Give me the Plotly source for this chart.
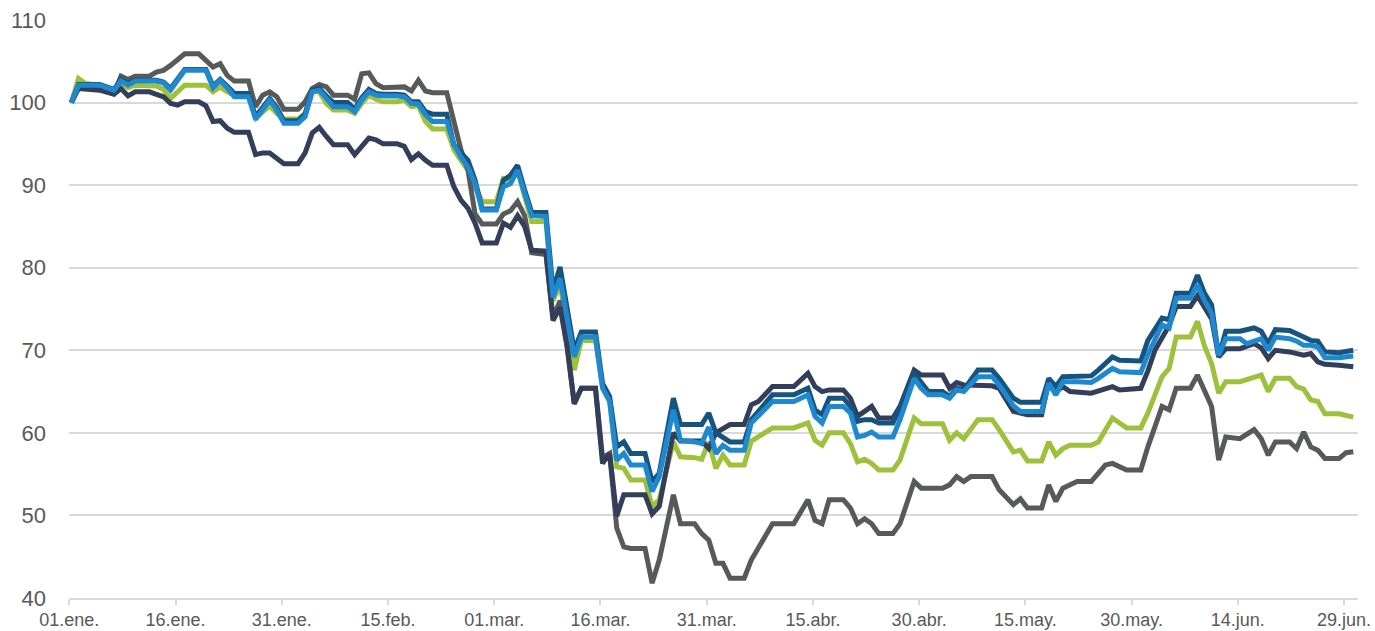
import pandas as pd
import plotly.graph_objects as go

base = pd.Timestamp("2020-01-01")

# x-axis ticks (days after 01.ene.2020) and labels
tick_days = [0, 15, 30, 45, 60, 75, 90, 105, 120, 135, 150, 165, 180]
tick_labels = ["01.ene.", "16.ene.", "31.ene.", "15.feb.", "01.mar.", "16.mar.",
               "31.mar.", "15.abr.", "30.abr.", "15.may.", "30.may.", "14.jun.", "29.jun."]
y_ticks = [40, 50, 60, 70, 80, 90, 100, 110]

# ---- series: green ----
green_days = [0, 1, 2, 4, 6, 7, 8, 9, 12, 13, 14, 16, 19, 20, 21, 22, 23, 25, 26, 27, 28, 29, 30, 32,
              33, 34, 35, 36, 37, 39, 40, 41, 42, 43, 44, 46, 47, 48, 49, 50, 51, 53, 54, 55, 56, 57,
              58, 60, 61, 62, 63, 64, 65, 67, 68, 69, 71, 72, 74, 75, 76, 77, 78, 79, 81, 82, 83, 85,
              86, 88, 89, 90, 91, 92, 93, 95, 96, 99, 102, 104, 105, 106, 107, 109, 110, 111, 112, 113,
              114, 116, 117, 119, 120, 123, 124, 125, 126, 128, 130, 131, 133, 134, 135, 137, 138, 139,
              140, 141, 144, 145, 147, 148, 149, 151, 152, 154, 155, 156, 158, 159, 160, 161, 162, 163,
              165, 168, 169, 170, 172, 173, 174, 175, 176, 177, 179, 181]
green_vals = [100, 102.9, 102.3, 102.1, 101.3, 102.3, 101.8, 102.1, 102.0, 101.6, 100.5, 102.1, 102.1,
              101.3, 101.9, 101.3, 100.9, 100.9, 98.1, 98.9, 99.6, 98.7, 98.0, 98.0, 98.7, 101.3, 101.3,
              99.9, 99.1, 99.1, 98.7, 99.9, 100.9, 100.4, 100.1, 100.1, 100.3, 99.5, 99.6, 97.7, 96.8,
              96.8, 94.3, 93.0, 91.8, 89.8, 88.0, 88.0, 90.8, 90.6, 91.8, 88.6, 85.6, 85.6, 76.0, 78.0,
              67.6, 71.2, 71.2, 65.6, 64.0, 55.9, 55.7, 54.3, 54.3, 51.1, 51.9, 58.9, 57.1, 57.0, 56.8,
              58.9, 55.7, 57.3, 56.1, 56.1, 59.0, 60.6, 60.6, 61.2, 59.1, 58.5, 60.0, 60.0, 58.7, 56.5,
              56.8, 56.3, 55.5, 55.5, 56.7, 61.8, 61.1, 61.1, 59.1, 60.0, 59.3, 61.6, 61.6, 60.4, 57.7,
              57.9, 56.6, 56.6, 58.9, 57.3, 58.1, 58.5, 58.5, 58.9, 61.8, 61.2, 60.6, 60.6, 62.4, 66.8,
              67.8, 71.6, 71.6, 73.5, 70.5, 68.4, 64.8, 66.2, 66.2, 67.0, 65.0, 66.6, 66.6, 65.6, 65.3,
              64.0, 63.8, 62.3, 62.3, 61.9]

# ---- series: gray ----
gray_days = [0, 1, 4, 6, 7, 8, 9, 11, 12, 13, 14, 16, 18, 20, 21, 22, 23, 25, 26, 27, 28, 29, 30, 32,
             33, 34, 35, 36, 37, 39, 40, 41, 42, 43, 44, 46, 47, 48, 49, 50, 51, 53, 54, 55, 56, 57, 58,
             60, 61, 62, 63, 64, 65, 67, 68, 69, 70, 71, 72, 74, 75, 76, 77, 78, 79, 81, 82, 83, 84, 85,
             86, 88, 89, 90, 91, 92, 93, 95, 96, 99, 102, 104, 105, 106, 107, 109, 110, 111, 112, 113,
             114, 116, 117, 119, 120, 123, 124, 125, 126, 127, 130, 131, 133, 134, 135, 137, 138, 139,
             140, 142, 144, 145, 146, 147, 149, 151, 152, 154, 155, 156, 158, 159, 161, 162, 163, 165,
             167, 168, 169, 170, 172, 173, 174, 175, 176, 177, 179, 180, 181]
gray_vals = [100, 102.0, 102.1, 101.1, 103.2, 102.8, 103.2, 103.2, 103.7, 103.9, 104.5, 105.9, 105.9,
             104.3, 104.7, 103.3, 102.6, 102.6, 99.5, 100.9, 101.3, 100.7, 99.2, 99.2, 100.1, 101.7,
             102.2, 101.9, 100.9, 100.9, 100.4, 103.5, 103.6, 102.3, 101.8, 101.8, 101.9, 101.4, 102.7,
             101.4, 101.2, 101.2, 97.5, 94.3, 91.8, 86.5, 85.3, 85.3, 86.5, 86.9, 88.0, 86.3, 81.8, 81.6,
             74.0, 76.0, 70.5, 63.6, 65.4, 65.4, 57.0, 57.5, 48.5, 46.2, 46.0, 46.0, 41.8, 44.6, 48.5,
             52.5, 49.0, 49.0, 47.8, 47.0, 44.2, 44.2, 42.4, 42.4, 44.6, 49.0, 49.0, 51.9, 49.4, 49.0,
             51.9, 51.9, 50.9, 49.0, 49.6, 49.0, 47.8, 47.8, 49.0, 54.1, 53.3, 53.3, 53.7, 54.7, 54.1,
             54.7, 54.7, 53.1, 51.3, 52.0, 50.9, 50.9, 53.7, 51.7, 53.3, 54.1, 54.1, 55.0, 56.1, 56.3,
             55.5, 55.5, 58.3, 63.2, 62.8, 65.4, 65.4, 67.0, 63.2, 56.7, 59.5, 59.3, 60.4, 59.3, 57.3,
             58.9, 58.9, 58.1, 60.1, 58.3, 57.9, 56.9, 56.9, 57.6, 57.7]

# ---- series: navy ----
navy_days = [0, 1, 4, 6, 7, 8, 9, 11, 12, 13, 14, 15, 16, 18, 19, 20, 21, 22, 23, 25, 26, 27, 28, 29,
             30, 32, 33, 34, 35, 36, 37, 39, 40, 41, 42, 43, 44, 46, 47, 48, 49, 50, 51, 53, 54, 55, 56,
             57, 58, 60, 61, 62, 63, 64, 65, 67, 68, 69, 70, 71, 72, 74, 75, 76, 77, 78, 79, 81, 82, 83,
             85, 86, 89, 90, 91, 93, 95, 96, 97, 99, 102, 104, 105, 106, 107, 109, 110, 111, 112, 113,
             114, 116, 117, 119, 120, 123, 124, 125, 126, 128, 130, 131, 133, 134, 135, 137, 138, 139,
             140, 141, 144, 147, 148, 151, 152, 153, 155, 156, 158, 159, 160, 161, 162, 163, 165, 167,
             168, 169, 170, 172, 174, 175, 176, 177, 179, 181]
navy_vals = [100, 101.7, 101.5, 101.0, 101.7, 100.8, 101.3, 101.3, 101.0, 100.7, 99.9, 99.7, 100.1,
             100.1, 99.6, 97.7, 97.8, 96.9, 96.4, 96.4, 93.7, 93.9, 93.9, 93.2, 92.6, 92.6, 93.9, 96.3,
             97.0, 95.9, 94.9, 94.9, 93.7, 94.7, 95.7, 95.5, 95.0, 95.0, 94.7, 93.1, 93.8, 93.0, 92.4,
             92.4, 89.8, 88.2, 87.2, 85.4, 83.0, 83.0, 85.4, 84.9, 86.3, 85.0, 82.1, 82.0, 73.6, 75.2,
             70.4, 63.5, 65.4, 65.4, 56.3, 57.5, 49.9, 52.5, 52.5, 52.5, 50.2, 51.1, 60.0, 59.0, 59.0,
             58.1, 60.0, 61.0, 61.0, 63.4, 63.8, 65.6, 65.6, 67.2, 65.6, 65.0, 65.2, 65.2, 64.2, 62.0,
             62.6, 63.2, 61.8, 61.8, 63.2, 67.6, 67.0, 67.0, 65.4, 66.1, 65.8, 65.8, 65.7, 65.4, 62.6,
             62.4, 62.2, 62.2, 66.2, 65.0, 65.6, 65.0, 64.8, 65.6, 65.2, 65.4, 67.5, 70.0, 73.0, 75.3,
             75.3, 76.6, 75.3, 73.8, 69.2, 70.2, 70.2, 70.8, 70.3, 69.0, 70.0, 69.8, 69.4, 69.6, 68.6,
             68.3, 68.2, 68.0]

# ---- series: dark blue ----
dkblue_days = [0, 1, 4, 6, 7, 8, 9, 12, 13, 14, 16, 19, 20, 21, 22, 23, 25, 26, 27, 28, 29, 30, 32, 33,
               34, 35, 36, 37, 39, 40, 41, 42, 43, 44, 46, 47, 48, 49, 50, 51, 53, 54, 55, 56, 57, 58,
               60, 61, 62, 63, 64, 65, 67, 68, 69, 71, 72, 74, 75, 76, 77, 78, 79, 81, 82, 83, 85, 86,
               89, 90, 91, 92, 93, 95, 96, 99, 102, 104, 105, 106, 107, 109, 110, 111, 112, 113, 114,
               116, 117, 119, 120, 121, 123, 124, 125, 126, 128, 130, 131, 133, 134, 137, 138, 139, 140,
               142, 144, 145, 147, 148, 151, 152, 154, 155, 156, 158, 159, 160, 161, 162, 163, 165, 167,
               168, 169, 170, 172, 174, 175, 176, 177, 179, 181]
dkblue_vals = [100, 102.2, 102.2, 101.6, 102.8, 102.3, 102.7, 102.7, 102.5, 101.7, 104.0, 104.0, 102.0,
               102.8, 102.0, 101.1, 101.1, 98.3, 99.4, 100.5, 99.4, 97.8, 97.8, 98.6, 101.5, 101.7,
               100.8, 100.0, 100.0, 99.2, 100.6, 101.6, 101.1, 101.0, 101.0, 100.9, 100.1, 100.1, 98.9,
               98.6, 98.6, 94.9, 93.9, 93.0, 90.6, 87.1, 87.1, 90.6, 91.2, 92.4, 89.4, 86.7, 86.7, 77.3,
               80.1, 70.0, 72.2, 72.2, 66.0, 64.4, 58.3, 58.9, 57.5, 57.5, 54.1, 55.1, 64.2, 61.0, 61.0,
               62.4, 60.0, 59.4, 58.9, 58.9, 61.6, 64.6, 64.6, 65.4, 62.8, 62.2, 64.2, 64.2, 63.2, 61.4,
               61.6, 61.6, 61.2, 61.2, 63.0, 67.2, 66.0, 65.0, 65.0, 64.4, 65.4, 65.2, 67.6, 67.6, 66.6,
               64.2, 63.7, 63.7, 66.6, 65.6, 66.8, 66.9, 66.9, 67.6, 69.2, 68.8, 68.7, 71.2, 73.9, 73.7,
               76.9, 76.9, 79.1, 76.9, 75.5, 69.2, 72.3, 72.3, 72.7, 72.3, 70.8, 72.5, 72.4, 71.6, 71.2,
               71.1, 69.8, 69.7, 70.0]

# ---- series: bright blue ----
blue_days = [0, 1, 4, 6, 7, 8, 9, 12, 13, 14, 16, 19, 20, 21, 22, 23, 25, 26, 27, 28, 29, 30, 32, 33,
             34, 35, 36, 37, 39, 40, 41, 42, 43, 44, 46, 47, 48, 49, 50, 51, 53, 54, 55, 56, 57, 58, 60,
             61, 62, 63, 64, 65, 67, 68, 69, 71, 72, 74, 75, 76, 77, 78, 79, 81, 82, 83, 85, 86, 88, 89,
             90, 91, 92, 93, 95, 96, 99, 102, 104, 105, 106, 107, 109, 110, 111, 112, 113, 114, 116,
             117, 119, 120, 121, 123, 124, 125, 126, 128, 130, 131, 133, 134, 137, 138, 139, 140, 142,
             144, 145, 147, 148, 151, 152, 154, 155, 156, 158, 159, 160, 161, 162, 163, 165, 166, 168,
             169, 170, 172, 173, 174, 175, 176, 177, 179, 181]
blue_vals = [100, 102.1, 102.1, 101.5, 102.6, 102.1, 102.6, 102.6, 102.4, 101.5, 103.9, 103.9, 101.8,
             102.7, 101.8, 100.7, 100.7, 98.0, 99.1, 100.3, 99.1, 97.5, 97.5, 98.3, 101.3, 101.5, 100.5,
             99.5, 99.5, 98.9, 100.3, 101.3, 100.9, 100.8, 100.8, 100.7, 99.9, 99.8, 98.5, 97.7, 97.7,
             95.0, 93.4, 92.2, 90.2, 87.0, 87.0, 89.8, 90.2, 91.8, 89.0, 86.3, 86.2, 76.4, 78.7, 69.2,
             71.6, 71.6, 65.4, 63.8, 56.7, 57.5, 56.1, 56.1, 52.9, 54.7, 62.8, 59.1, 58.9, 58.7, 60.7,
             57.5, 58.5, 57.9, 57.9, 61.2, 63.8, 63.8, 64.6, 62.0, 61.2, 63.2, 63.2, 62.4, 59.5, 59.7,
             60.1, 59.5, 59.5, 61.6, 66.6, 65.4, 64.6, 64.6, 64.2, 65.2, 65.0, 66.8, 66.8, 65.8, 63.3,
             62.6, 62.6, 66.0, 64.6, 66.2, 66.2, 66.1, 66.6, 67.8, 67.4, 67.3, 69.5, 73.1, 72.7, 76.3,
             76.3, 77.9, 76.0, 74.5, 69.4, 71.4, 71.4, 70.8, 71.4, 70.0, 71.6, 71.4, 71.1, 70.6, 70.6,
             70.4, 69.1, 69.1, 69.3]

series = [
    ("Serie A", green_days, green_vals, "#9dc13b"),
    ("Serie B", gray_days, gray_vals, "#58595b"),
    ("Serie C", navy_days, navy_vals, "#333f5a"),
    ("Serie D", dkblue_days, dkblue_vals, "#17537f"),
    ("Serie E", blue_days, blue_vals, "#1f89d0"),
]

# daily points sit slightly after the date tick (as in the source chart)
point_offset_days = 0.3


def to_dates(days, offset=0.0):
    return [base + pd.Timedelta(days=d + offset) for d in days]


fig = go.Figure()
for name, days, vals, color in series:
    fig.add_trace(go.Scatter(x=to_dates(days, point_offset_days), y=vals, mode="lines", name=name,
                             line=dict(color=color, width=5), showlegend=False,
                             hoverinfo="y"))

font_family = "Liberation Sans, Arial, sans-serif"
fig.update_layout(
    width=1375, height=631,
    margin=dict(l=69, r=17, t=20, b=33),
    plot_bgcolor="white", paper_bgcolor="white",
    font=dict(family=font_family, color="#595959"),
    showlegend=False,
)
fig.update_xaxes(
    type="date", automargin=False,
    range=[base + pd.Timedelta(days=-0.04), base + pd.Timedelta(days=181.97)],
    tickvals=to_dates(tick_days), ticktext=tick_labels,
    showgrid=False, zeroline=False,
    showline=True, linecolor="#d9d9d9", linewidth=1.5,
    ticks="outside", ticklen=5, tickwidth=1.5, tickcolor="#d9d9d9",
    ticklabeloverflow="allow",
    tickfont=dict(size=18, color="#595959", family=font_family),
)
fig.update_yaxes(
    automargin=False,
    range=[40, 110], tickvals=y_ticks,
    showgrid=True, gridcolor="#d9d9d9", gridwidth=1.5,
    zeroline=False, showline=False,
    ticks="", ticklabelstandoff=22,
    tickfont=dict(size=22, color="#595959", family=font_family),
)

fig.write_html(
    "out.html",
    config={"displayModeBar": False},
    post_script="document.body.style.margin='0';document.body.style.overflow='hidden';",
)
